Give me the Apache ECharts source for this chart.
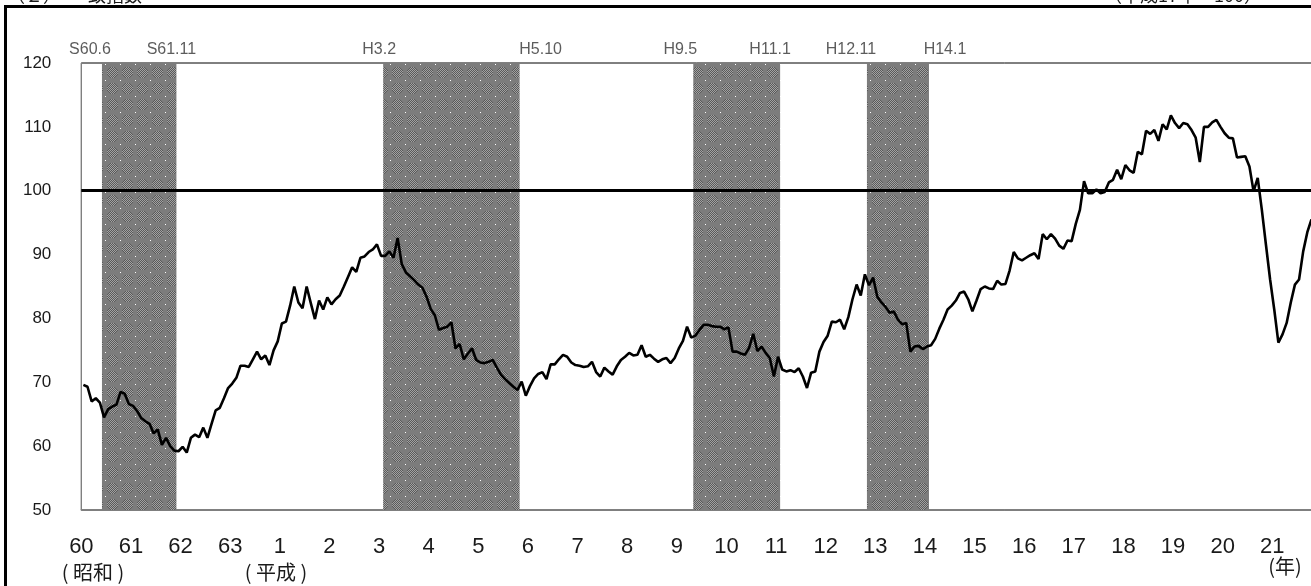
<!DOCTYPE html>
<html><head><meta charset="utf-8">
<script src="https://cdn.jsdelivr.net/npm/echarts@6/dist/echarts.min.js"></script>
<style>html,body{margin:0;padding:0;background:#fff;overflow:hidden}#c{width:1311px;height:586px}</style>
</head><body><div id="c"></div>
<script>
// ---------- DATA ----------
const yearLabels = ['60','61','62','63','1','2','3','4','5','6','7','8','9','10','11','12','13','14','15','16','17','18','19','20','21'];
// monthly coincident index (H17 = 100), S60.1 onward
const ciValues = [
  69.6, 69.3, 67.0, 67.5, 66.8, 64.5, 65.8, 66.2, 66.5, 68.5, 68.2, 66.6,
  66.3, 65.5, 64.4, 63.9, 63.5, 62.0, 62.6, 60.2, 61.3, 60.0, 59.3, 59.2,
  59.9, 59.0, 61.3, 61.8, 61.4, 62.9, 61.3, 63.5, 65.6, 66.0, 67.5, 69.1,
  69.8, 70.7, 72.6, 72.6, 72.4, 73.6, 74.8, 73.6, 74.2, 72.7, 75.0, 76.4,
  79.2, 79.5, 82.0, 85.0, 82.5, 81.6, 85.0, 82.4, 79.9, 82.8, 81.4, 83.3,
  82.2, 83.0, 83.6, 85.0, 86.5, 88.0, 87.3, 89.5, 89.7, 90.4, 90.8, 91.6,
  89.8, 89.8, 90.5, 89.5, 92.6, 88.5, 87.2, 86.6, 86.0, 85.3, 84.8, 83.4,
  81.5, 80.5, 78.2, 78.5, 78.7, 79.4, 75.3, 76.0, 73.6, 74.5, 75.3, 73.5,
  73.1, 73.0, 73.2, 73.5, 72.3, 71.2, 70.5, 69.9, 69.3, 68.8, 70.1, 67.9,
  69.4, 70.6, 71.3, 71.6, 70.5, 72.8, 72.8, 73.6, 74.3, 74.0, 73.1, 72.7,
  72.6, 72.4, 72.5, 73.2, 71.6, 70.9, 72.3, 71.7, 71.2, 72.5, 73.5, 74.0,
  74.6, 74.2, 74.3, 75.8, 74.0, 74.3, 73.7, 73.2, 73.6, 73.8, 73.0, 73.8,
  75.3, 76.5, 78.7, 77.0, 77.3, 78.2, 79.0, 79.0, 78.8, 78.7, 78.7, 78.3,
  78.6, 74.8, 74.8, 74.5, 74.3, 75.4, 77.6, 74.9, 75.6, 74.6, 73.8, 70.9,
  74.0, 72.0, 71.7, 71.9, 71.6, 72.2, 70.9, 69.1, 71.5, 71.7, 74.8, 76.3,
  77.3, 79.5, 79.4, 79.8, 78.3, 80.2, 83.0, 85.3, 83.6, 86.9, 85.2, 86.4,
  83.4, 82.5, 81.8, 80.9, 81.1, 79.8, 79.1, 79.3, 74.8, 75.6, 75.7, 75.2,
  75.6, 75.8, 76.8, 78.4, 79.8, 81.4, 82.0, 82.8, 84.0, 84.2, 83.0, 81.1,
  82.8, 84.6, 85.0, 84.7, 84.6, 85.9, 85.3, 85.4, 87.5, 90.4, 89.4, 89.1,
  89.5, 89.9, 90.2, 89.3, 93.2, 92.4, 93.2, 92.5, 91.4, 90.9, 92.2, 92.1,
  94.8, 97.0, 101.5, 99.6, 99.6, 100.2, 99.6, 99.8, 101.3, 101.7, 103.3, 101.8,
  104.0, 103.2, 102.8, 106.1, 105.7, 109.4, 108.9, 109.5, 107.8, 110.4, 109.6, 111.8,
  110.6, 109.8, 110.6, 110.4, 109.5, 108.3, 104.5, 110.0, 110.0, 110.7, 111.1, 110.0,
  109.0, 108.3, 108.2, 105.2, 105.3, 105.4, 103.8, 99.9, 102.0, 97.0, 91.5, 86.1,
  81.4, 76.2, 77.5, 79.3, 82.5, 85.3, 86.1, 90.5, 93.5, 95.5
];
const baseLine = 100;
const bandStart = ['S60.6', 'H3.2', 'H9.5', 'H12.11'];
const bandEnd   = ['S61.11', 'H5.10', 'H11.1', 'H14.1'];
const tickYears = ['61','63','1','3','4','6','8','9','10','12','13','15','16','18','19','21'];
const yMin = 50, yMax = 120, yStep = 10;

// ---------- BUILD ----------
const categories = [];
yearLabels.forEach(y => { for (let m = 1; m <= 12; m++) categories.push(y + '.' + m); });
const monthIndex = s => categories.indexOf(s.slice(1));
const tickIdx = new Set(tickYears.map(y => categories.indexOf(y + '.1')));

// styling (pixel offsets of the band captions)
const startOffsets = [-12, -4, -13, -16];
const endOffsets = [-5, 21, -10, 16];

function makePattern() {
  const c = document.createElement('canvas');
  c.width = 15; c.height = 16;
  const ctx = c.getContext('2d');
  ctx.fillStyle = '#7c7c7c'; ctx.fillRect(0, 0, 15, 16);
  for (let x = 0; x < 15; x++) for (let y = 0; y < 16; y++) {
    const d = Math.hypot(x - 7, y - 8);
    if (d < 5.5) { ctx.fillStyle = ((x + y) % 2 === 0) ? '#5a5a5a' : '#a2a2a2'; ctx.fillRect(x, y, 1, 1); }
  }
  ctx.fillStyle = '#ffffff'; ctx.fillRect(0, 0, 1, 1);
  return c;
}

const areas = bandStart.map((s, i) => [{ xAxis: monthIndex(s) }, { xAxis: monthIndex(bandEnd[i]) + 1 }]);
const captionData = [];
bandStart.forEach((s, i) => {
  captionData.push({ value: [monthIndex(s), yMax], label: { formatter: s, offset: [startOffsets[i], 0] } });
  captionData.push({ value: [monthIndex(bandEnd[i]) + 1, yMax], label: { formatter: bandEnd[i], offset: [endOffsets[i], 0] } });
});

const chart = echarts.init(document.getElementById('c'), null, { renderer: 'canvas' });
const FONT = '"Liberation Sans", Arial, sans-serif';
const JFONT = '"Noto Sans CJK JP", sans-serif';
chart.setOption({
  animation: false,
  backgroundColor: '#ffffff',
  grid: { left: 81.3, top: 63, width: 1240.5, bottom: 76, outerBoundsMode: 'none', containLabel: false,
          show: true, borderColor: '#000', borderWidth: 1, backgroundColor: 'transparent' },
  xAxis: [
    {
      type: 'category', data: categories, boundaryGap: true,
      axisLine: { lineStyle: { color: '#808080', width: 1.5 } },
      axisTick: { inside: true, length: 6, interval: (i) => tickIdx.has(i), lineStyle: { color: '#000' } },
      axisLabel: {
        interval: (i) => i % 12 === 0,
        formatter: (v) => v.split('.')[0],
        fontSize: 22, color: '#1a1a1a', margin: 26, padding: [0, 4, 0, 0], fontFamily: FONT
      },
      splitLine: { show: false }
    },
    { type: 'value', min: 0, max: categories.length, show: false }
  ],
  yAxis: {
    type: 'value', min: yMin, max: yMax, interval: yStep,
    axisLine: { show: true, lineStyle: { color: '#808080' } },
    axisTick: { show: false }, splitLine: { show: false },
    axisLabel: { fontSize: 17, color: '#1a1a1a', margin: 30, fontFamily: FONT }
  },
  series: [
    {
      type: 'line', xAxisIndex: 1, data: [], silent: true,
      markArea: { silent: true, itemStyle: { color: { image: makePattern(), repeat: 'repeat' } }, data: areas }
    },
    {
      type: 'scatter', xAxisIndex: 1, symbolSize: 0, silent: true, data: captionData, z: 6,
      label: { show: true, position: 'top', distance: 5, fontSize: 16, color: '#333', fontFamily: FONT }
    },
    {
      type: 'line', data: ciValues, symbol: 'none', z: 5,
      lineStyle: { color: '#000', width: 2.6 },
      markLine: { silent: true, symbol: 'none', label: { show: false }, lineStyle: { color: '#000', width: 3, type: 'solid' }, data: [{ yAxis: baseLine }] }
    }
  ],
  graphic: [
    { type: 'rect', shape: { x: 5.5, y: 6.5, width: 1400, height: 700 }, style: { fill: 'none', stroke: '#000', lineWidth: 3 }, silent: true },
    { type: 'text', x: 7, y: 4, style: { text: '（２）　一致指数', font: '18px ' + JFONT, fill: '#1a1a1a', textAlign: 'left', textVerticalAlign: 'bottom' } },
    { type: 'text', x: 1262, y: 4, style: { text: '（平成17年＝100）', font: '18px ' + JFONT, fill: '#1a1a1a', textAlign: 'right', textVerticalAlign: 'bottom' } },
    { type: 'text', x: 93, y: 572, style: { text: '( 昭和 )', font: '20px ' + JFONT, fill: '#1a1a1a', textAlign: 'center', textVerticalAlign: 'middle' } },
    { type: 'text', x: 276, y: 572, style: { text: '( 平成 )', font: '20px ' + JFONT, fill: '#1a1a1a', textAlign: 'center', textVerticalAlign: 'middle' } },
    { type: 'text', x: 1285, y: 566, style: { text: '(年)', font: '20px ' + JFONT, fill: '#1a1a1a', textAlign: 'center', textVerticalAlign: 'middle' } }
  ]
});
</script></body></html>
